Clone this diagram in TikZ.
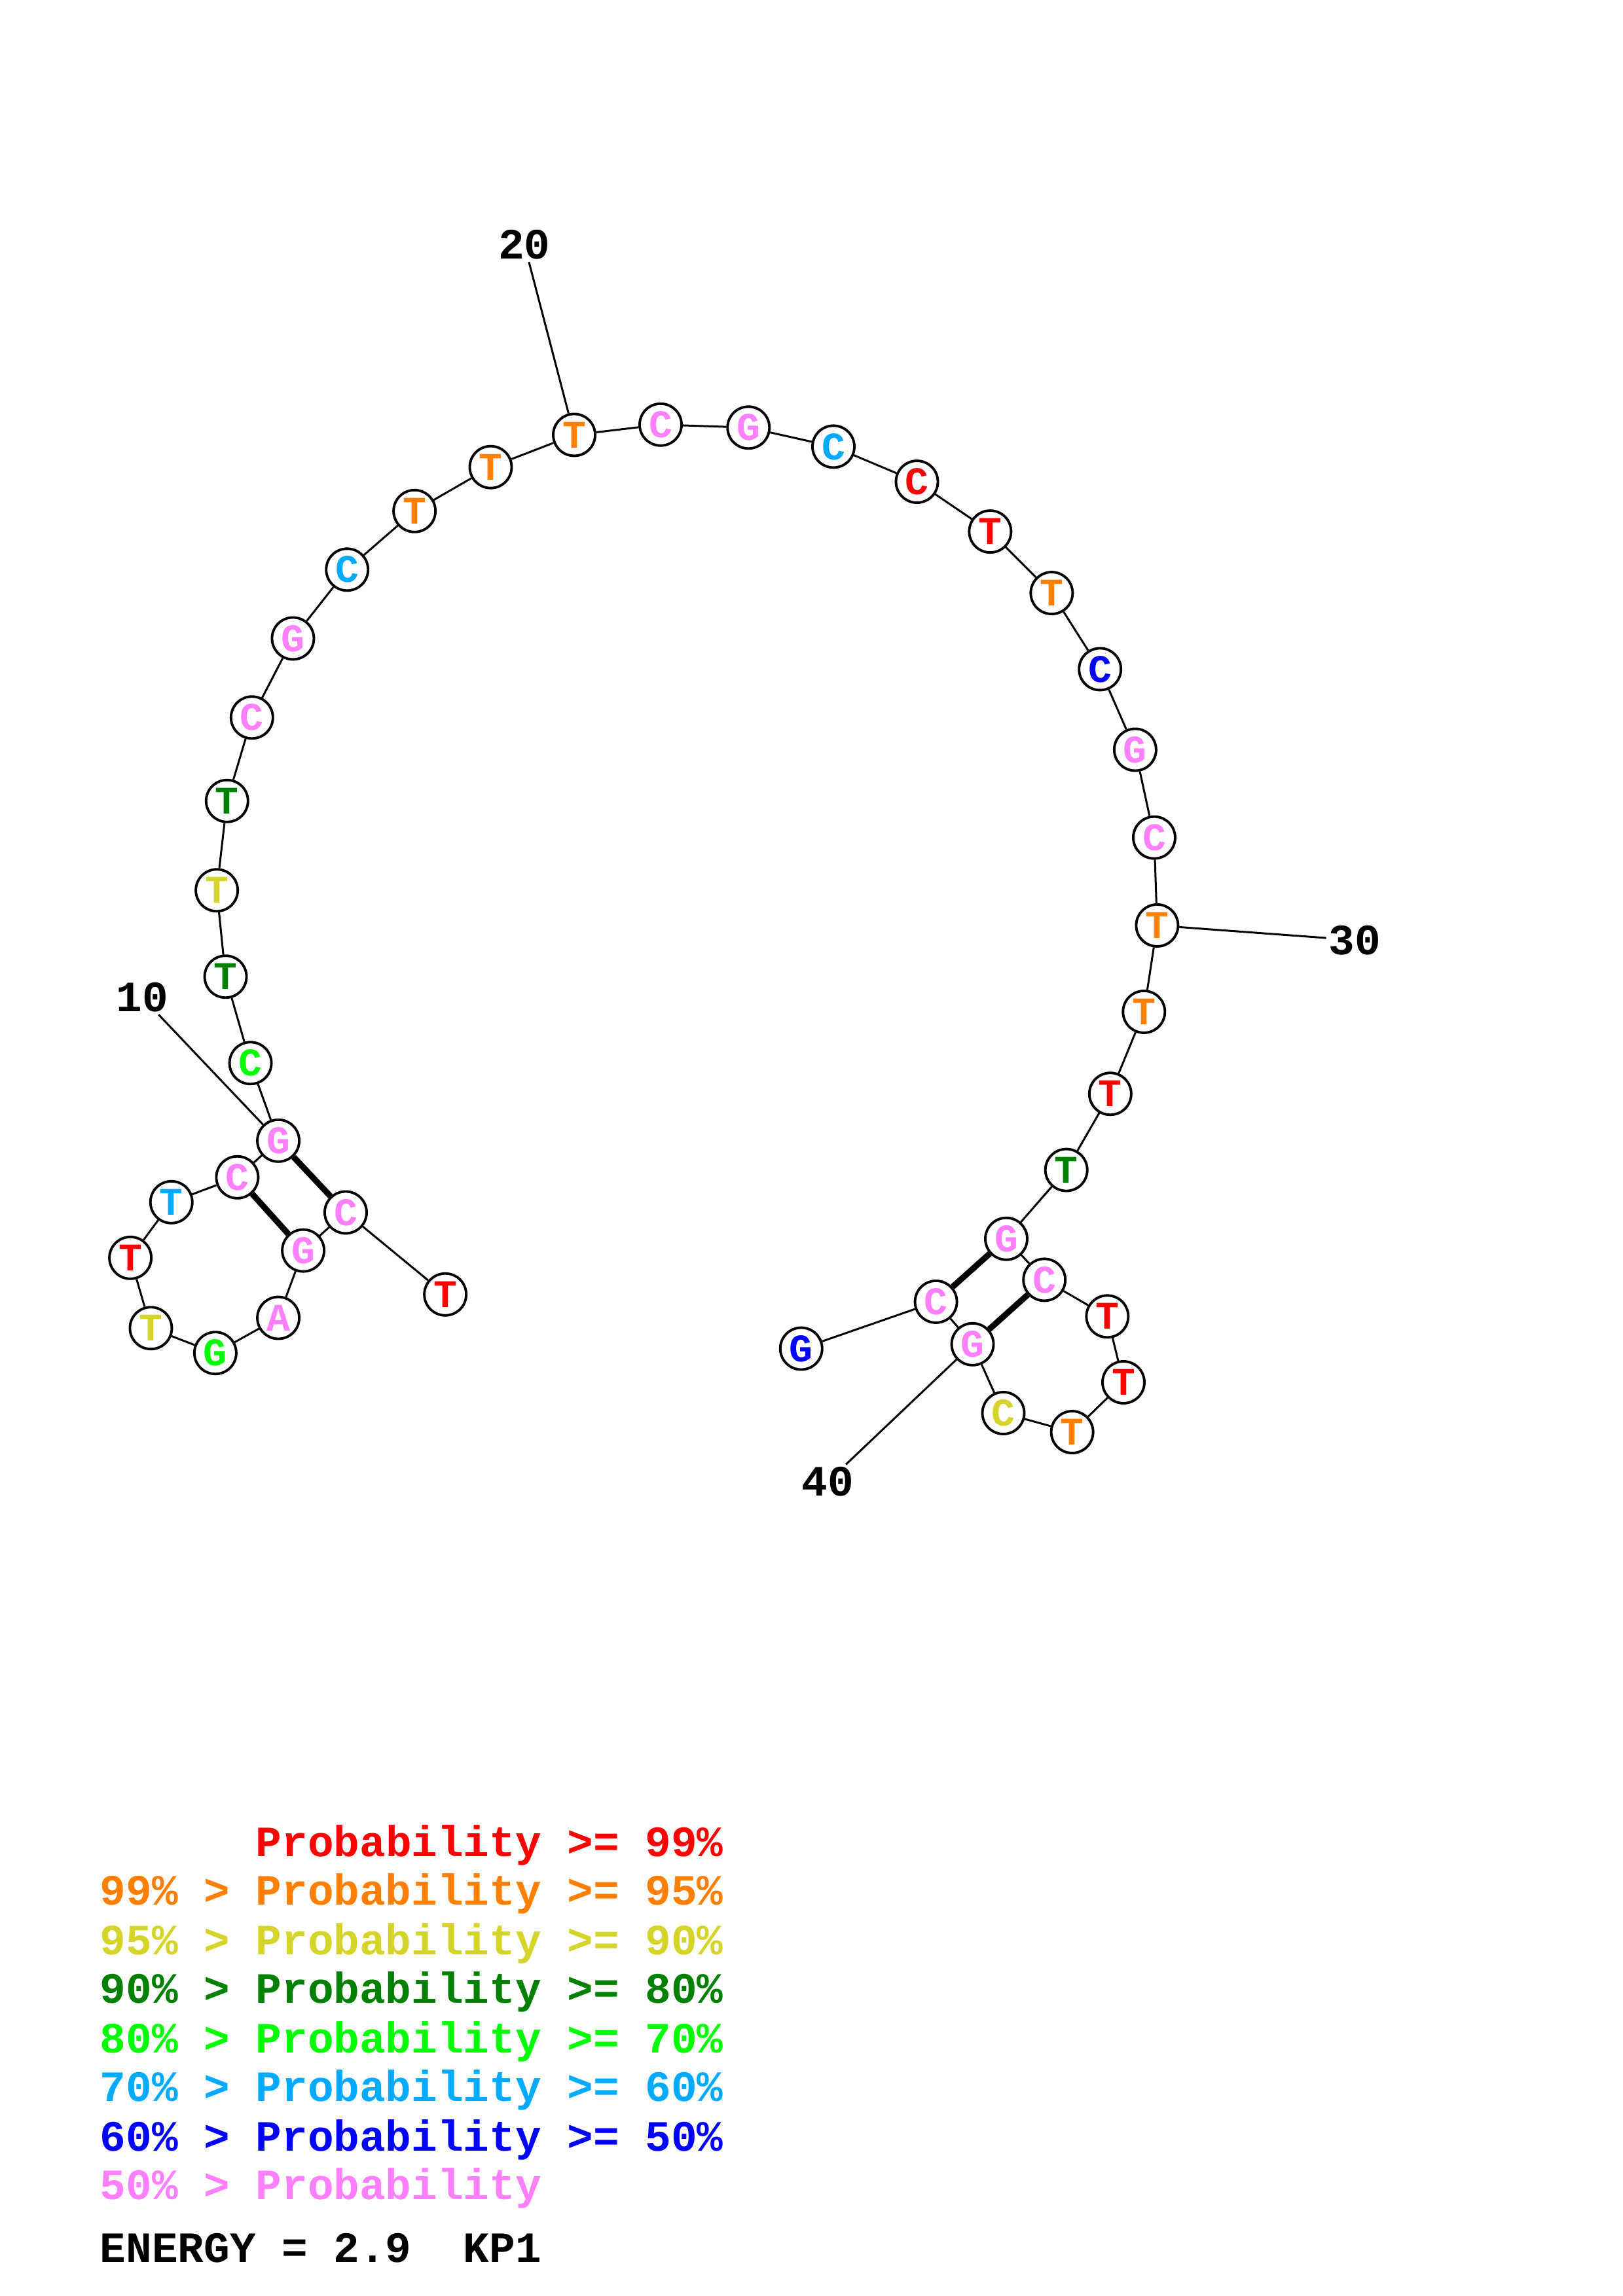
\documentclass[tikz,border=0pt]{standalone}
\usepackage{fontspec}
\setmonofont{Liberation Mono}
\definecolor{prob red}{rgb}{1, 0, 0}
\definecolor{prob orange}{rgb}{1, 0.5, 0}
\definecolor{prob yellow}{rgb}{0.83, 0.83, 0.17}
\definecolor{prob dark green}{rgb}{0, 0.5, 0}
\definecolor{prob green}{rgb}{0, 1, 0}
\definecolor{prob sky}{rgb}{0, 0.67, 1}
\definecolor{prob blue}{rgb}{0, 0, 1}
\definecolor{prob pink}{rgb}{1, 0.5, 1}
\tikzset{
	nucbox/.style={circle, draw, fill=white, line width=1.1pt, minimum size=0.64cm, inner sep=0pt,
		font=\ttfamily\bfseries\fontsize{17}{17}\selectfont},
	numlabel/.style={inner sep=1pt, font=\ttfamily\bfseries\fontsize{18.8}{18.8}\selectfont},
	legendline/.style={anchor=base west, inner sep=0pt, font=\ttfamily\bfseries\fontsize{18.8}{18.8}\selectfont},
	backbone/.style={line width=0.85pt},
	pairline/.style={line width=2.6pt}
}

\begin{document}
\begin{tikzpicture}[x=0.022374cm, y=-0.022374cm]
			\useasboundingbox (0, 0) rectangle (1108, 1568);
			% bases of the strand, 5' to 3'
			\begin{scope}
				\foreach \x/\y/\b/\c [count=\i] in {
					304/884/T/prob red, 236/828/C/prob pink, 207/854/G/prob pink, 190/900/A/prob pink,
					147/924/G/prob green, 103/907/T/prob yellow, 89/859/T/prob red, 117/821/T/prob sky,
					162/804/C/prob pink, 190/779/G/prob pink, 171/726/C/prob green, 154/667/T/prob dark green,
					148/608/T/prob yellow, 155/547/T/prob dark green, 172/490/C/prob pink, 200/436/G/prob pink,
					237/389/C/prob sky, 283/349/T/prob orange, 335/319/T/prob orange, 392/297/T/prob orange,
					451/290/C/prob pink, 511/292/G/prob pink, 569/305/C/prob sky, 626/329/C/prob red,
					676/363/T/prob red, 718/405/T/prob orange, 751/457/C/prob blue, 775/512/G/prob pink,
					788/572/C/prob pink, 790/632/T/prob orange, 781/691/T/prob orange, 758/747/T/prob red,
					728/799/T/prob dark green, 687/846/G/prob pink, 713/874/C/prob pink, 756/899/T/prob red,
					767/944/T/prob red, 732/978/T/prob orange, 685/965/C/prob yellow, 664/918/G/prob pink,
					639/889/C/prob pink, 547/921/G/prob blue}
					\node[nucbox, text=\c] (n\i) at (\x, \y) {\b};
			\end{scope}
			% backbone
			\foreach \i in {1, ..., 41} {
				\pgfmathtruncatemacro{\j}{\i + 1}
				\draw[backbone] (n\i) -- (n\j);
			}
			% base pairs
			\draw[pairline] (n2) -- (n10) (n3) -- (n9) (n34) -- (n41) (n35) -- (n40);
			% position numbers
			\node[numlabel] (l10) at (97, 681) {10};
			\node[numlabel] (l20) at (358, 167) {20};
			\node[numlabel] (l30) at (925, 642) {30};
			\node[numlabel] (l40) at (565, 1012) {40};
			\draw[backbone] (l10) -- (n10) (l20) -- (n20) (l30) -- (n30) (l40) -- (n40);
			% legend
			\node[legendline, text=prob red] (g1) at (68, 1268) {\phantom{99\% > }Probability >= 99\%};
			\node[legendline, text=prob orange] (g2) at (68, 1301) {99\% > Probability >= 95\%};
			\node[legendline, text=prob yellow] (g3) at (68, 1335) {95\% > Probability >= 90\%};
			\node[legendline, text=prob dark green] (g4) at (68, 1368) {90\% > Probability >= 80\%};
			\node[legendline, text=prob green] (g5) at (68, 1402) {80\% > Probability >= 70\%};
			\node[legendline, text=prob sky] (g6) at (68, 1435) {70\% > Probability >= 60\%};
			\node[legendline, text=prob blue] (g7) at (68, 1469) {60\% > Probability >= 50\%};
			\node[legendline, text=prob pink] (g8) at (68, 1502) {50\% > Probability};
			\node[legendline] (energy) at (68, 1545) {ENERGY = 2.9\ \ KP1};
\end{tikzpicture}
\end{document}
